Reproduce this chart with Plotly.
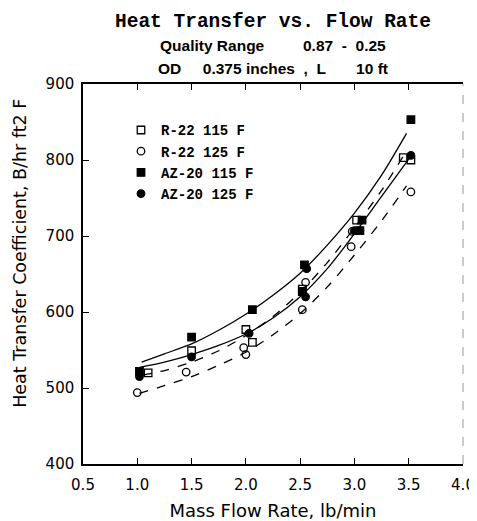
import plotly.graph_objects as go

# ---- data ----
series_names = ["R-22 115 F", "R-22 125 F", "AZ-20 115 F", "AZ-20 125 F"]

r22_115_x = [1.10, 1.50, 2.00, 2.06, 2.52, 3.02, 3.45, 3.52]
r22_115_y = [520, 549, 577, 560, 630, 721, 803, 800]

r22_125_x = [1.00, 1.45, 1.98, 2.00, 2.52, 2.55, 2.97, 2.98, 3.52]
r22_125_y = [494, 521, 553, 544, 603, 639, 686, 706, 758]

az20_115_x = [1.02, 1.50, 2.06, 2.54, 2.52, 3.07, 3.05, 3.52]
az20_115_y = [522, 567, 603, 662, 627, 721, 707, 853]

az20_125_x = [1.02, 1.50, 2.03, 2.56, 2.55, 3.00, 3.05, 3.52]
az20_125_y = [515, 541, 572, 657, 620, 707, 707, 806]

# fitted curves
fit_az20_115_x = [1.04, 1.25, 1.5, 1.75, 2.0, 2.25, 2.5, 2.75, 3.0, 3.25, 3.48]
fit_az20_115_y = [534, 545, 558, 576, 597, 622, 651, 688, 730, 780, 835]
fit_az20_125_x = [1.02, 1.25, 1.5, 1.75, 2.0, 2.25, 2.5, 2.75, 3.0, 3.25, 3.52]
fit_az20_125_y = [527, 534, 544, 556, 571, 592, 620, 657, 703, 752, 805]
fit_r22_115_x = [1.05, 1.25, 1.5, 1.75, 2.0, 2.25, 2.5, 2.75, 3.0, 3.25, 3.45]
fit_r22_115_y = [517, 523, 534, 549, 569, 594, 626, 665, 711, 760, 805]
fit_r22_125_x = [1.02, 1.25, 1.5, 1.75, 2.0, 2.25, 2.5, 2.75, 3.0, 3.25, 3.48]
fit_r22_125_y = [493, 503, 515, 530, 547, 570, 598, 633, 675, 720, 766]

x_tickvals = [0.5, 1.0, 1.5, 2.0, 2.5, 3.0, 3.5, 4.0]
x_ticktext = ["0.5", "1.0", "1.5", "2.0", "2.5", "3.0", "3.5", "4.0"]
y_tickvals = [400, 500, 600, 700, 800, 900]

NB = "\u00a0"

fig = go.Figure()

for fx, fy, dash in [
    (fit_az20_115_x, fit_az20_115_y, "solid"),
    (fit_az20_125_x, fit_az20_125_y, "solid"),
    (fit_r22_115_x, fit_r22_115_y, "dash"),
    (fit_r22_125_x, fit_r22_125_y, "dash"),
]:
    fig.add_trace(go.Scatter(x=fx, y=fy, mode="lines", showlegend=False,
                             line=dict(color="black", width=1.3, dash=dash,
                                       shape="spline", smoothing=0.8),
                             hoverinfo="skip"))

markers = [
    (r22_115_x, r22_115_y, "square-open"),
    (r22_125_x, r22_125_y, "circle-open"),
    (az20_115_x, az20_115_y, "square"),
    (az20_125_x, az20_125_y, "circle"),
]
for name, (mx, my, sym) in zip(series_names, markers):
    fig.add_trace(go.Scatter(x=mx, y=my, mode="markers", name=name,
                             marker=dict(symbol=sym, size=7.5, color="black",
                                         line=dict(color="black", width=1.3))))

# The page places the figure 8px in from the top-left corner of the window,
# so the figure is sized to the visible 469x513 area.
fig.update_layout(
    width=469, height=513,
    margin=dict(l=75, r=14, t=76, b=57),
    paper_bgcolor="white", plot_bgcolor="white",
    showlegend=True,
    legend=dict(x=0.1, y=0.92, xanchor="left", yanchor="top",
                font=dict(family="Liberation Mono", size=14, color="black", weight="bold"),
                bgcolor="rgba(0,0,0,0)", tracegroupgap=0, itemwidth=30),
    font=dict(family="DejaVu Sans", color="black"),
)

fig.add_annotation(text="<b>Heat Transfer vs. Flow Rate</b>", xref="paper", yref="paper",
                   x=0.5, y=1.0, yshift=62, xanchor="center", yanchor="middle", showarrow=False,
                   font=dict(family="Liberation Mono", size=19.5, color="black"))
fig.add_annotation(text="<b>Quality Range" + NB * 9 + "0.87" + NB * 2 + "-" + NB * 2 + "0.25</b>",
                   xref="paper", yref="paper",
                   x=0.5, y=1.0, yshift=39, xanchor="center", yanchor="middle", showarrow=False,
                   font=dict(family="Liberation Sans", size=15.5, color="black"))
fig.add_annotation(text="<b>OD" + NB * 5 + "0.375 inches" + NB * 2 + "," + NB * 2 + "L" + NB * 7 + "10 ft</b>",
                   xref="paper", yref="paper",
                   x=0.5, y=1.0, yshift=16, xanchor="center", yanchor="middle", showarrow=False,
                   font=dict(family="Liberation Sans", size=15.5, color="black"))
# y axis title
fig.add_annotation(text="Heat Transfer Coefficient, B/hr ft2 F", xref="paper", yref="paper",
                   x=0, xshift=-63, y=0.553, xanchor="center", yanchor="middle",
                   textangle=-90, showarrow=False,
                   font=dict(family="DejaVu Sans", size=17.5, color="black"))

fig.update_xaxes(range=[0.5, 4.0], tickvals=x_tickvals, ticktext=x_ticktext, automargin=False,
                 ticks="inside", ticklen=6, tickcolor="black", showgrid=False, zeroline=False,
                 showline=True, linecolor="black", linewidth=1.5, mirror="ticks",
                 ticklabelstandoff=6,
                 tickfont=dict(family="DejaVu Sans", size=15, color="black"),
                 title=dict(text="Mass Flow Rate, lb/min", standoff=16,
                            font=dict(family="DejaVu Sans", size=18, color="black")))
fig.update_yaxes(range=[400, 900], tickvals=y_tickvals, automargin=False,
                 ticks="inside", ticklen=6, tickcolor="black", showgrid=False, zeroline=False,
                 showline=True, linecolor="black", linewidth=1.5, mirror=False,
                 ticklabelstandoff=4,
                 tickfont=dict(family="DejaVu Sans", size=15, color="black"))

# faint right frame edge
fig.add_shape(type="line", xref="paper", yref="paper", x0=1, x1=1, y0=0, y1=1,
              line=dict(color="#999999", width=1, dash="dash"))

fig.write_html("out.html")
